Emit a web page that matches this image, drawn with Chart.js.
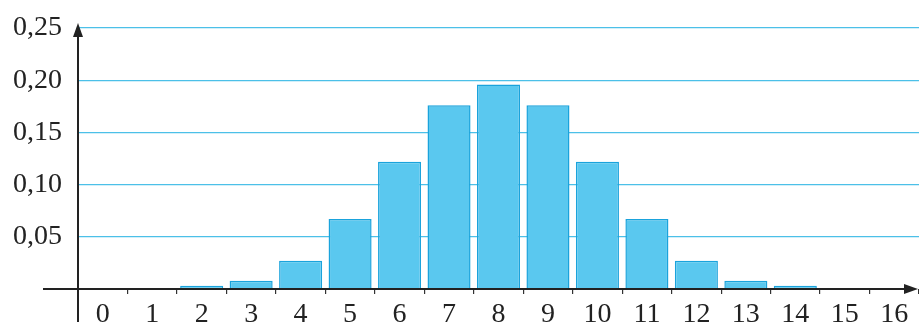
<!DOCTYPE html>
<html>
<head>
<meta charset="utf-8">
<script src="https://cdn.jsdelivr.net/npm/chart.js@4"></script>
<style>
  html, body { margin: 0; padding: 0; background: #fff; }
  #wrap { width: 919px; height: 327px; position: relative; }
</style>
</head>
<body>
<div id="wrap"><canvas id="chart"></canvas></div>
<script>
var categories = ['0', '1', '2', '3', '4', '5', '6', '7', '8', '9', '10', '11', '12', '13', '14', '15', '16'];
var probabilities = [0, 0, 0.003, 0.008, 0.027, 0.067, 0.122, 0.176, 0.196, 0.176, 0.122, 0.067, 0.027, 0.008, 0.003, 0, 0];
var yTicks = [0, 0.05, 0.10, 0.15, 0.20, 0.25];

// axes with arrows, drawn on top like the printed figure
var axesPlugin = {
  id: 'axes',
  afterDraw(chart) {
    var c = chart.ctx;
    var a = chart.chartArea;
    var y0 = chart.scales.y.getPixelForValue(0);
    var x0 = a.left;
    c.save();
    c.strokeStyle = '#222';
    c.fillStyle = '#222';
    c.lineWidth = 2;
    // x axis
    c.beginPath();
    c.moveTo(43, y0);
    c.lineTo(908, y0);
    c.stroke();
    c.beginPath();
    c.moveTo(918, y0);
    c.lineTo(904, y0 - 5);
    c.lineTo(904, y0 + 5);
    c.closePath();
    c.fill();
    // y axis
    c.beginPath();
    c.moveTo(x0, 322);
    c.lineTo(x0, 34);
    c.stroke();
    c.beginPath();
    c.moveTo(x0, 23);
    c.lineTo(x0 - 5, 37);
    c.lineTo(x0 + 5, 37);
    c.closePath();
    c.fill();
    c.restore();
  }
};

var serif = '"Liberation Serif", "Times New Roman", Times, serif';

var ctx = document.getElementById('chart').getContext('2d');
var chart = new Chart(ctx, {
  type: 'bar',
  data: {
    labels: categories,
    datasets: [{
      data: probabilities,
      backgroundColor: '#5ac8ef',
      borderColor: '#1aa3dc',
      borderWidth: 1.5,
      borderSkipped: 'bottom',
      barPercentage: 0.87,
      categoryPercentage: 1
    }]
  },
  options: {
    responsive: true,
    maintainAspectRatio: false,
    animation: false,
    layout: { padding: { top: 28, right: 0, left: 0, bottom: 0 } },
    plugins: {
      legend: { display: false },
      tooltip: { enabled: false }
    },
    scales: {
      x: {
        offset: true,
        border: { display: false },
        grid: {
          offset: true,
          drawOnChartArea: false,
          drawTicks: true,
          tickLength: 5,
          color: '#333',
          lineWidth: 1.2
        },
        ticks: {
          color: '#222',
          padding: 4,
          maxRotation: 0,
          autoSkip: false,
          font: { family: serif, size: 28 }
        },
        afterFit(scale) {
          scale.height = 38;
          scale.paddingLeft = 0;
          scale.paddingRight = 0;
        }
      },
      y: {
        min: 0,
        max: 0.25,
        border: { display: false },
        afterBuildTicks(scale) {
          scale.ticks = yTicks.map(function (v) { return { value: v }; });
        },
        grid: {
          drawTicks: false,
          lineWidth: 1.2,
          color(c) { return c.tick && c.tick.value === 0 ? 'rgba(0,0,0,0)' : '#4cc0e8'; }
        },
        ticks: {
          color: '#222',
          padding: 16,
          font: { family: serif, size: 28 },
          callback(v) { return v === 0 ? '' : v.toFixed(2).replace('.', ','); }
        },
        afterFit(scale) {
          scale.width = 78;
          scale.paddingTop = 0;
          scale.paddingBottom = 0;
        }
      }
    }
  },
  plugins: [axesPlugin]
});
</script>
</body>
</html>
